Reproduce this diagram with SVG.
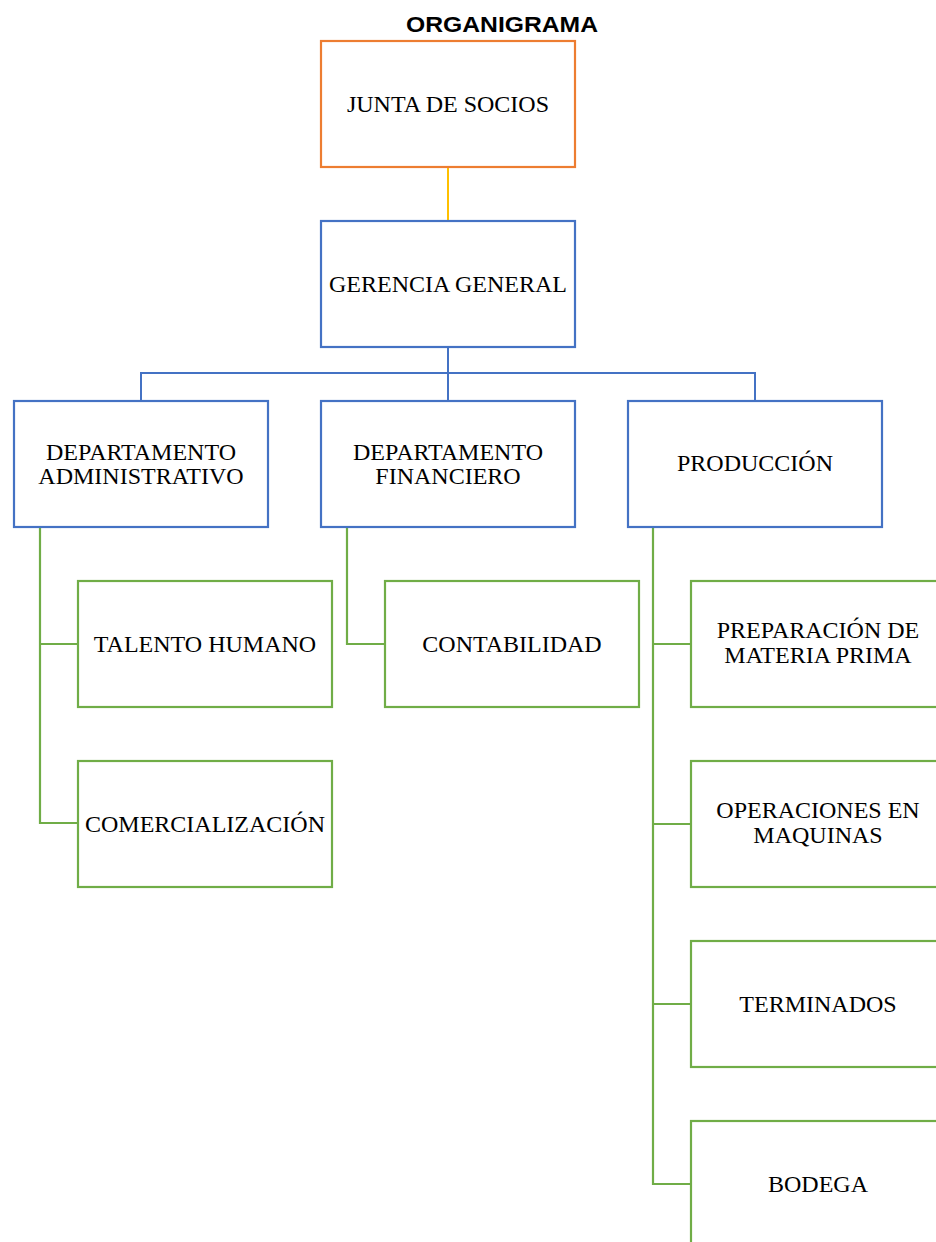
<svg xmlns="http://www.w3.org/2000/svg" width="936" height="1242" viewBox="0 0 936 1242">
<style>
.t{font-family:"Liberation Serif","Times New Roman",serif;font-size:24px;fill:#000;text-anchor:middle}
.title{font-family:"Liberation Sans",Arial,sans-serif;font-size:22px;font-weight:bold;fill:#000;text-anchor:middle}
.o{fill:#fff;stroke:#ED7D31;stroke-width:2.2}
.b{fill:#fff;stroke:#4472C4;stroke-width:2.2}
.g{fill:#fff;stroke:#70AD47;stroke-width:2.2}
.cb{fill:none;stroke:#4472C4;stroke-width:2}
.cg{fill:none;stroke:#70AD47;stroke-width:2.2}
.cy{fill:none;stroke:#FFC000;stroke-width:2}
</style>
<rect width="936" height="1242" fill="#fff"/>
<text class="title" x="502" y="32" textLength="192" lengthAdjust="spacingAndGlyphs">ORGANIGRAMA</text>
<g id="connectors">
<path class="cy" d="M448 167V221"/>
<path class="cb" d="M448 347V401M141 401V373H755V401"/>
<path class="cg" d="M40 527V823H78M40 644H78"/>
<path class="cg" d="M347 527V644H385"/>
<path class="cg" d="M653 527V1184H691M653 644H691M653 824H691M653 1004H691"/>
</g>
<g id="junta"><rect class="o" x="321" y="41" width="254" height="126"/><text class="t" x="448" y="112">JUNTA DE SOCIOS</text></g>
<g id="gerencia"><rect class="b" x="321" y="221" width="254" height="126"/><text class="t" x="448" y="292">GERENCIA GENERAL</text></g>
<g id="dept-admin"><rect class="b" x="14" y="401" width="254" height="126"/><text class="t" x="141" y="460">DEPARTAMENTO</text><text class="t" x="141" y="484">ADMINISTRATIVO</text></g>
<g id="dept-fin"><rect class="b" x="321" y="401" width="254" height="126"/><text class="t" x="448" y="460">DEPARTAMENTO</text><text class="t" x="448" y="484">FINANCIERO</text></g>
<g id="produccion"><rect class="b" x="628" y="401" width="254" height="126"/><text class="t" x="755" y="471">PRODUCCIÓN</text></g>
<g id="talento"><rect class="g" x="78" y="581" width="254" height="126"/><text class="t" x="205" y="652">TALENTO HUMANO</text></g>
<g id="comercializacion"><rect class="g" x="78" y="761" width="254" height="126"/><text class="t" x="205" y="832">COMERCIALIZACIÓN</text></g>
<g id="contabilidad"><rect class="g" x="385" y="581" width="254" height="126"/><text class="t" x="512" y="652">CONTABILIDAD</text></g>
<g id="preparacion"><rect class="g" x="691" y="581" width="254" height="126"/><text class="t" x="818" y="638">PREPARACIÓN DE</text><text class="t" x="818" y="663">MATERIA PRIMA</text></g>
<g id="operaciones"><rect class="g" x="691" y="761" width="254" height="126"/><text class="t" x="818" y="818">OPERACIONES EN</text><text class="t" x="818" y="843">MAQUINAS</text></g>
<g id="terminados"><rect class="g" x="691" y="941" width="254" height="126"/><text class="t" x="818" y="1012">TERMINADOS</text></g>
<g id="bodega"><rect class="g" x="691" y="1121" width="254" height="126"/><text class="t" x="818" y="1192">BODEGA</text></g>
</svg>
